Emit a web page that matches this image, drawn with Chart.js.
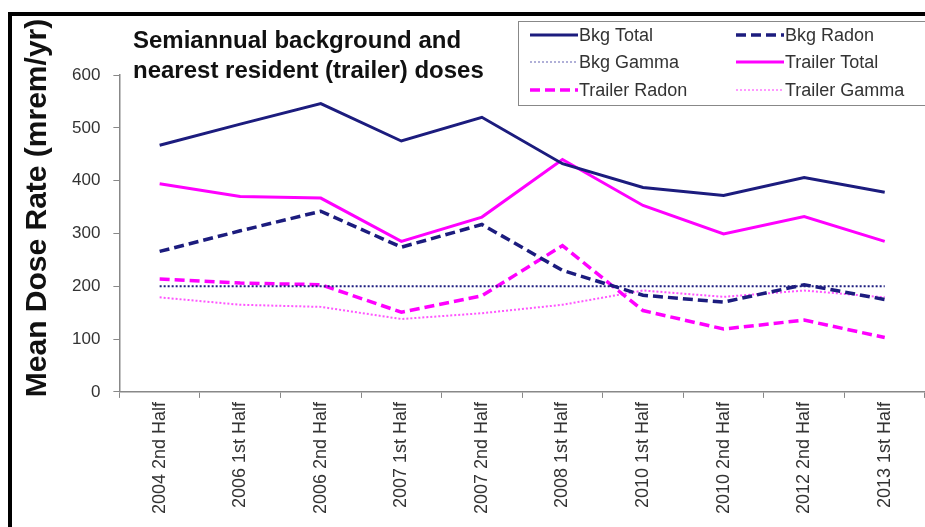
<!DOCTYPE html>
<html>
<head>
<meta charset="utf-8">
<script src="https://cdn.jsdelivr.net/npm/chart.js@4"></script>
<style>
  html, body { margin: 0; padding: 0; background: #fff; }
  #wrap { width: 925px; height: 527px; }
</style>
</head>
<body>
<div id="wrap"><canvas id="doses" width="925" height="527"></canvas></div>
<script>
// categories (sampling periods)
const periods = ['2004 2nd Half', '2006 1st Half', '2006 2nd Half', '2007 1st Half', '2007 2nd Half',
                 '2008 1st Half', '2010 1st Half', '2010 2nd Half', '2012 2nd Half', '2013 1st Half'];

// mean dose rate, mrem/yr
const bkgTotal      = [467, 507, 546, 475, 520, 432, 387, 372, 406, 378];
const bkgRadon      = [266, 305, 342, 274, 317, 230, 183, 170, 203, 175];
const bkgGamma      = [200, 200, 200, 200, 200, 200, 200, 200, 200, 200];
const trailerTotal  = [394, 370, 367, 285, 331, 440, 353, 299, 332, 285];
const trailerRadon  = [214, 206, 203, 151, 182, 277, 154, 119, 136, 103];
const trailerGamma  = [179, 165, 161, 138, 149, 165, 192, 180, 192, 179];

const yTicks = [0, 100, 200, 300, 400, 500, 600];

const NAVY = '#1c1c7e', PINK = '#ff00ff';
const FONT = '"Liberation Sans", Arial, sans-serif';

// frame, title text, y axis title and the boxed legend
const decor = {
    id: 'decor',
    beforeDraw(chart) {
        const ctx = chart.ctx;
        ctx.save();
        ctx.fillStyle = '#000';
        ctx.fillRect(8, 12, 4, 520);
        ctx.fillRect(8, 12, 925, 4);
        ctx.restore();
    },
    afterDraw(chart) {
        const ctx = chart.ctx;
        ctx.save();
        // title
        ctx.fillStyle = '#111';
        ctx.font = 'bold 24px ' + FONT;
        ctx.textBaseline = 'alphabetic';
        ctx.fillText('Semiannual background and', 133, 48);
        ctx.fillText('nearest resident (trailer) doses', 133, 78);

        // y axis title, set a bit above the middle as in the source
        ctx.save();
        ctx.translate(38, 208);
        ctx.rotate(-Math.PI / 2);
        ctx.font = 'bold 30px ' + FONT;
        ctx.textAlign = 'center';
        ctx.textBaseline = 'middle';
        ctx.fillText('Mean Dose Rate (mrem/yr)', 0, 0);
        ctx.restore();

        // legend
        ctx.strokeStyle = '#888';
        ctx.lineWidth = 1;
        ctx.fillStyle = '#fff';
        ctx.fillRect(518.5, 21.5, 420, 84);
        ctx.strokeRect(518.5, 21.5, 420, 84);
        const cols = [530, 736], rows = [35, 62, 90];
        chart.data.datasets.forEach((ds, i) => {
            const x = cols[i % 2], y = rows[Math.floor(i / 2)];
            ctx.beginPath();
            ctx.strokeStyle = ds.legendColor || ds.borderColor;
            ctx.lineWidth = ds.borderWidth;
            ctx.setLineDash(ds.borderDash || []);
            ctx.moveTo(x, y);
            ctx.lineTo(x + 48, y);
            ctx.stroke();
            ctx.setLineDash([]);
            ctx.fillStyle = '#333';
            ctx.font = '18px ' + FONT;
            ctx.textBaseline = 'middle';
            ctx.fillText(ds.label, x + 49, y + 1);
        });
        ctx.restore();
    }
};

const ctx = document.getElementById('doses').getContext('2d');
new Chart(ctx, {
    type: 'line',
    data: {
        labels: periods,
        datasets: [
            { label: 'Bkg Total', data: bkgTotal, borderColor: NAVY, borderWidth: 3 },
            { label: 'Bkg Radon', data: bkgRadon, borderColor: NAVY, borderWidth: 3.5, borderDash: [10, 5] },
            { label: 'Bkg Gamma', data: bkgGamma, borderColor: NAVY, borderWidth: 2, borderDash: [2, 2], legendColor: '#b0b0d8' },
            { label: 'Trailer Total', data: trailerTotal, borderColor: PINK, borderWidth: 3 },
            { label: 'Trailer Radon', data: trailerRadon, borderColor: PINK, borderWidth: 3.5, borderDash: [10, 5] },
            { label: 'Trailer Gamma', data: trailerGamma, borderColor: '#ff55ff', borderWidth: 2, borderDash: [2, 2], legendColor: '#ff99ff' }
        ]
    },
    options: {
        responsive: false,
        animation: false,
        elements: { point: { radius: 0, hoverRadius: 0 }, line: { tension: 0, fill: false } },
        layout: { padding: { left: 59, top: 75, right: 0, bottom: 9 } },
        plugins: {
            legend: { display: false },
            tooltip: { enabled: false }
        },
        scales: {
            x: {
                offset: true,
                grid: { offset: true, drawOnChartArea: false, tickLength: 6, color: '#888' },
                border: { color: '#888', width: 1.5 },
                ticks: {
                    minRotation: 90, maxRotation: 90, autoSkip: false, padding: 4,
                    color: '#333', font: { family: FONT, size: 18 }
                }
            },
            y: {
                min: 0, max: 600,
                afterBuildTicks: axis => { axis.ticks = yTicks.map(v => ({ value: v })); },
                grid: { drawOnChartArea: false, tickLength: 6, color: '#888' },
                border: { color: '#888', width: 1.5 },
                ticks: {
                    padding: 13, color: '#333',
                    font: { family: FONT, size: 17 }
                }
            }
        }
    },
    plugins: [decor]
});
</script>
</body>
</html>
